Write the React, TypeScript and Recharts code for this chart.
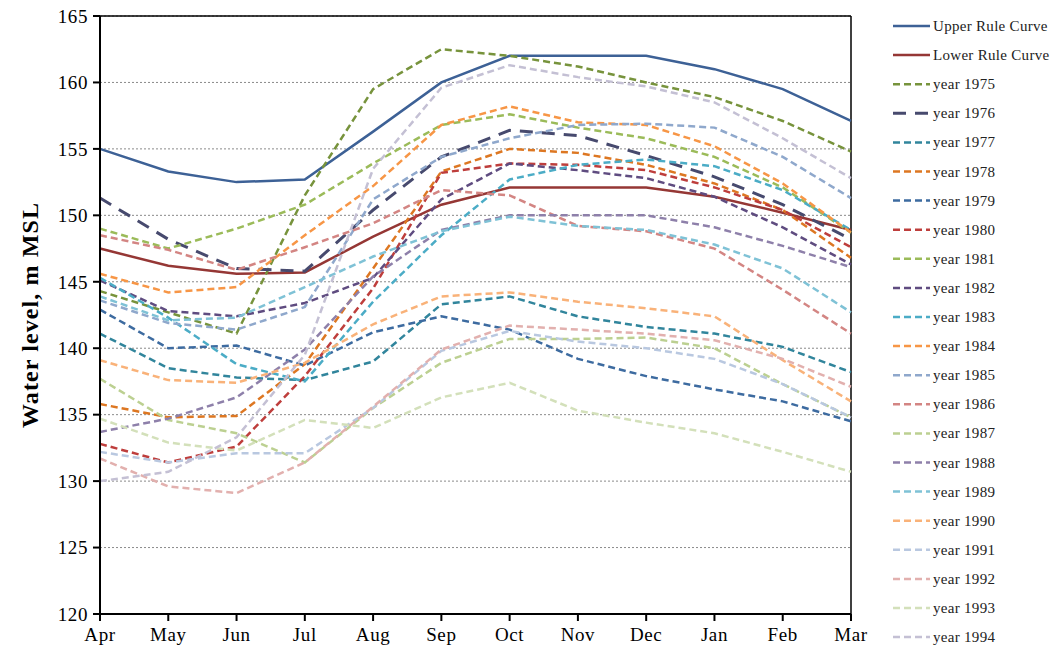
import React from 'react';
import { LineChart, Line, XAxis, YAxis, CartesianGrid, ReferenceLine, Label } from 'recharts';

const months = ['Apr', 'May', 'Jun', 'Jul', 'Aug', 'Sep', 'Oct', 'Nov', 'Dec', 'Jan', 'Feb', 'Mar'];
const yTicks = [120, 125, 130, 135, 140, 145, 150, 155, 160, 165];

// rule curves (m MSL)
const upperRule = [155.0, 153.3, 152.5, 152.7, 156.3, 160.0, 162.0, 162.0, 162.0, 161.0, 159.5, 157.1];
const lowerRule = [147.5, 146.2, 145.6, 145.7, 148.4, 150.8, 152.1, 152.1, 152.1, 151.4, 150.2, 148.9];

// observed monthly water levels per year
const y1975 = [144.3, 142.7, 141.1, 151.5, 159.5, 162.5, 162.0, 161.2, 160.0, 158.9, 157.1, 154.8];
const y1976 = [151.3, 148.2, 146.0, 145.8, 150.4, 154.4, 156.4, 156.0, 154.5, 152.9, 150.8, 148.2];
const y1977 = [141.1, 138.5, 137.8, 137.6, 139.0, 143.3, 143.9, 142.4, 141.6, 141.1, 140.1, 138.2];
const y1978 = [135.8, 134.8, 134.9, 138.8, 146.0, 153.3, 155.0, 154.7, 153.8, 152.4, 150.4, 146.8];
const y1979 = [142.9, 140.0, 140.2, 138.7, 141.2, 142.4, 141.4, 139.2, 137.9, 136.9, 136.0, 134.5];
const y1980 = [132.8, 131.4, 132.6, 137.9, 144.5, 153.2, 153.9, 153.8, 153.4, 152.1, 150.4, 147.6];
const y1981 = [149.0, 147.5, 149.0, 150.8, 153.9, 156.8, 157.6, 156.6, 155.8, 154.4, 152.1, 148.7];
const y1982 = [145.1, 142.8, 142.4, 143.4, 145.3, 151.2, 153.9, 153.4, 152.8, 151.4, 149.1, 146.3];
const y1983 = [145.3, 142.3, 138.8, 137.5, 143.5, 148.5, 152.7, 153.8, 154.2, 153.7, 151.9, 148.9];
const y1984 = [145.6, 144.2, 144.6, 148.5, 152.2, 156.8, 158.2, 157.0, 156.8, 155.2, 152.4, 148.7];
const y1985 = [143.6, 141.9, 141.4, 143.1, 151.2, 154.4, 155.8, 156.8, 156.9, 156.6, 154.4, 151.3];
const y1986 = [148.5, 147.4, 145.9, 147.6, 149.4, 151.9, 151.5, 149.2, 148.8, 147.5, 144.4, 141.1];
const y1987 = [137.7, 134.6, 133.6, 131.4, 135.5, 138.9, 140.7, 140.7, 140.8, 140.0, 137.3, 134.8];
const y1988 = [133.7, 134.7, 136.3, 139.9, 145.4, 148.9, 150.0, 150.0, 150.0, 149.1, 147.7, 146.1];
const y1989 = [143.9, 142.1, 142.3, 144.6, 146.9, 148.8, 149.9, 149.2, 148.9, 147.8, 146.0, 142.7];
const y1990 = [139.1, 137.6, 137.4, 138.9, 141.8, 143.9, 144.2, 143.5, 143.0, 142.4, 139.1, 136.0];
const y1991 = [132.2, 131.4, 132.1, 132.1, 135.5, 139.8, 141.3, 140.5, 140.0, 139.2, 137.3, 134.8];
const y1992 = [131.7, 129.6, 129.1, 131.4, 135.6, 139.9, 141.7, 141.4, 141.1, 140.6, 139.2, 137.1];
const y1993 = [134.7, 132.9, 132.3, 134.6, 134.0, 136.3, 137.4, 135.3, 134.4, 133.6, 132.2, 130.7];
const y1994 = [130.0, 130.7, 133.3, 139.5, 153.5, 159.6, 161.3, 160.4, 159.7, 158.5, 155.8, 152.8];

const DASH = '7 4';

const series = [
  { key: 'upper', name: 'Upper Rule Curve', values: upperRule, color: '#3D6196', dash: undefined, width: 2.5 },
  { key: 'lower', name: 'Lower Rule Curve', values: lowerRule, color: '#953735', dash: undefined, width: 2.5 },
  { key: 'y1975', name: 'year 1975', values: y1975, color: '#77933C', dash: DASH, width: 2.5 },
  { key: 'y1976', name: 'year 1976', values: y1976, color: '#474A6E', dash: '13 9', width: 3 },
  { key: 'y1977', name: 'year 1977', values: y1977, color: '#31859C', dash: DASH, width: 2.5 },
  { key: 'y1978', name: 'year 1978', values: y1978, color: '#DD7722', dash: DASH, width: 2.5 },
  { key: 'y1979', name: 'year 1979', values: y1979, color: '#3D6BA0', dash: DASH, width: 2.5 },
  { key: 'y1980', name: 'year 1980', values: y1980, color: '#BE3E3C', dash: DASH, width: 2.5 },
  { key: 'y1981', name: 'year 1981', values: y1981, color: '#9BBB59', dash: DASH, width: 2.5 },
  { key: 'y1982', name: 'year 1982', values: y1982, color: '#5F4C80', dash: DASH, width: 2.5 },
  { key: 'y1983', name: 'year 1983', values: y1983, color: '#4BACC6', dash: DASH, width: 2.5 },
  { key: 'y1984', name: 'year 1984', values: y1984, color: '#F79646', dash: DASH, width: 2.5 },
  { key: 'y1985', name: 'year 1985', values: y1985, color: '#8FA8CC', dash: DASH, width: 2.5 },
  { key: 'y1986', name: 'year 1986', values: y1986, color: '#D38583', dash: DASH, width: 2.5 },
  { key: 'y1987', name: 'year 1987', values: y1987, color: '#BCD091', dash: DASH, width: 2.5 },
  { key: 'y1988', name: 'year 1988', values: y1988, color: '#8E80AA', dash: DASH, width: 2.5 },
  { key: 'y1989', name: 'year 1989', values: y1989, color: '#7FC2D6', dash: DASH, width: 2.5 },
  { key: 'y1990', name: 'year 1990', values: y1990, color: '#F9B279', dash: DASH, width: 2.5 },
  { key: 'y1991', name: 'year 1991', values: y1991, color: '#B9C8E0', dash: DASH, width: 2.5 },
  { key: 'y1992', name: 'year 1992', values: y1992, color: '#E2B0AE', dash: DASH, width: 2.5 },
  { key: 'y1993', name: 'year 1993', values: y1993, color: '#D3E0BA', dash: DASH, width: 2.5 },
  { key: 'y1994', name: 'year 1994', values: y1994, color: '#C4C0D4', dash: DASH, width: 2.5 },
];

const data = months.map((m, i) => {
  const row: Record<string, number | string> = { month: m };
  series.forEach((s) => { row[s.key] = s.values[i]; });
  return row;
});

const FONT = '"Liberation Serif", "Times New Roman", serif';
const tickStyle = { fill: '#000', fontSize: 19, fontFamily: FONT, letterSpacing: 0.6 };

function YTitle(props: any) {
  const vb = props.viewBox || { x: 0, y: 0, height: 0 };
  const cy = vb.y + vb.height / 2;
  return (
    <text
      x={30}
      y={cy}
      transform={`rotate(-90, 30, ${cy})`}
      textAnchor="middle"
      dominantBaseline="central"
      fontFamily={FONT}
      fontWeight="bold"
      fontSize={24}
      letterSpacing={1.1}
      fill="#000"
    >
      Water level, m MSL
    </text>
  );
}

function SideLegend() {
  const top = 26;
  const step = 29.1;
  return (
    <svg width={180} height={653} style={{ position: 'absolute', left: 884, top: 0 }}>
      {series.map((s, i) => {
        const y = top + i * step;
        return (
          <g key={s.key}>
            <line x1={9} x2={46} y1={y} y2={y} stroke={s.color} strokeWidth={s.width} strokeDasharray={s.dash} />
            <text x={49} y={y} dominantBaseline="central" fontFamily={FONT} fontSize={15} letterSpacing={0.3} fill="#222">
              {s.name}
            </text>
          </g>
        );
      })}
    </svg>
  );
}

export default function App() {
  return (
    <div style={{ position: 'absolute', left: 0, top: 0, width: 1064, height: 653, background: '#fff' }}>
      <LineChart width={1064} height={653} data={data} margin={{ top: 16, right: 213, left: 0, bottom: 0 }}>
        <CartesianGrid vertical={false} stroke="#8a8a8a" strokeDasharray="2 2" />
        <XAxis
          dataKey="month"
          height={39}
          tick={tickStyle}
          tickSize={7}
          tickMargin={7}
          axisLine={{ stroke: '#000', strokeWidth: 2 }}
          tickLine={{ stroke: '#000', strokeWidth: 2 }}
          interval={0}
        />
        <YAxis
          width={100}
          domain={[120, 165]}
          ticks={yTicks}
          tick={tickStyle}
          tickSize={7}
          tickMargin={5}
          axisLine={{ stroke: '#000', strokeWidth: 2 }}
          tickLine={{ stroke: '#000', strokeWidth: 2 }}
          allowDataOverflow
        >
          <Label content={<YTitle />} />
        </YAxis>
        <ReferenceLine y={165} stroke="#000" strokeWidth={1.5} />
        <ReferenceLine x="Mar" stroke="#000" strokeWidth={1.5} />
        {series.map((s) => (
          <Line
            key={s.key}
            type="linear"
            dataKey={s.key}
            name={s.name}
            stroke={s.color}
            strokeWidth={s.width}
            strokeDasharray={s.dash}
            dot={false}
            activeDot={false}
            isAnimationActive={false}
          />
        ))}
      </LineChart>
      <SideLegend />
    </div>
  );
}
